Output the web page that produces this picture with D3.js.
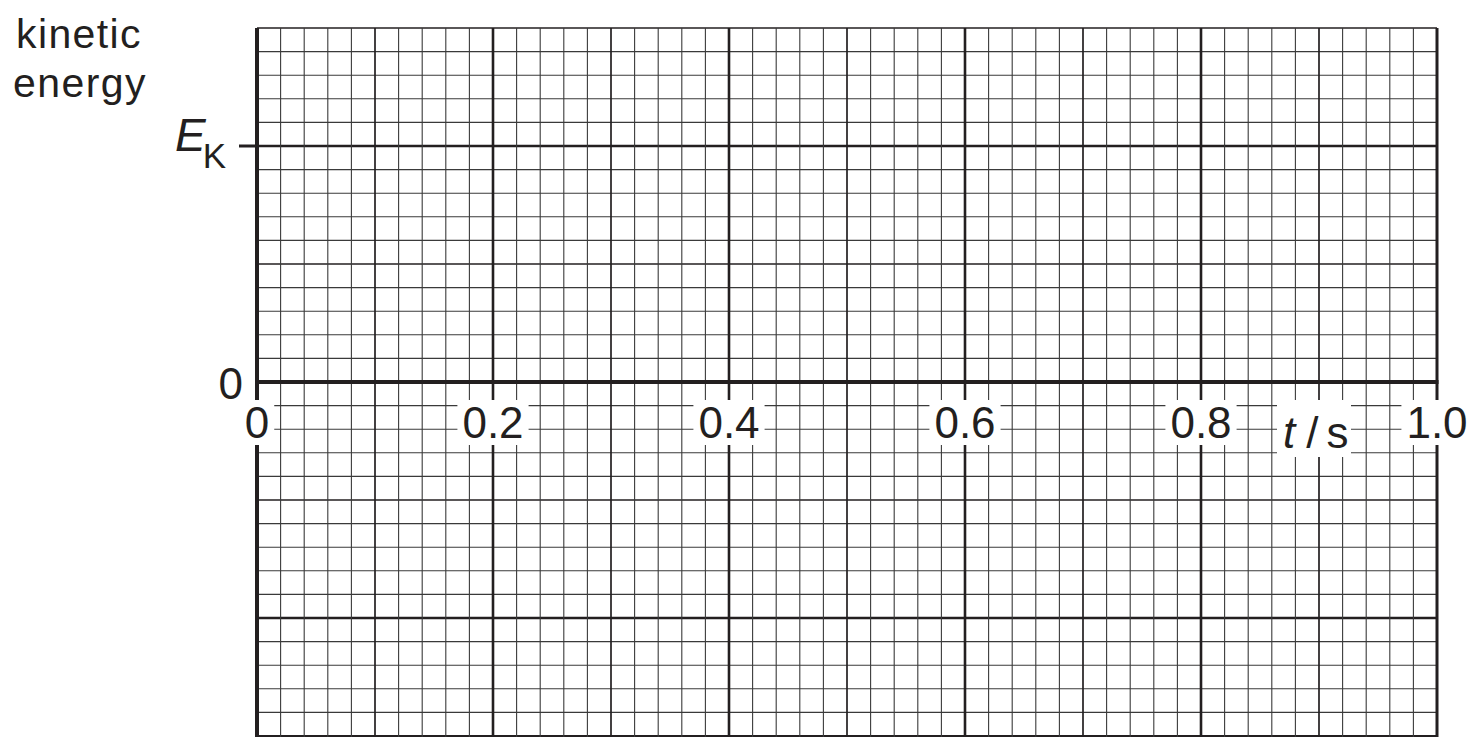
<!DOCTYPE html>
<html>
<head>
<meta charset="utf-8">
<script src="https://cdn.jsdelivr.net/npm/d3@7"></script>
<style>
  html, body { margin: 0; padding: 0; background: #fff; }
  svg { display: block; font-family: "Liberation Sans", Arial, sans-serif; }
</style>
</head>
<body>
<div id="chart"></div>
<script>
// axis ranges (t in s, kinetic energy in units of E_K)
const xDomain = [0, 1.0];
const yDomain = [-1.5, 1.5];

// labelled ticks
const xTickValues = [0, 0.2, 0.4, 0.6, 0.8, 1.0];
const xTickLabels = ["0", "0.2", "0.4", "0.6", "0.8", "1.0"];
const yTickValues = [0, 1];
const yTickLabels = ["0", "E_K"];

// grid spacing of the minor cells
const xMinorStep = 0.02;
const yMinorStep = 0.1;

const width = 1472, height = 748;
const ink = "#231f20";

const svg = d3.select("#chart").append("svg")
  .attr("width", width)
  .attr("height", height);

const x = d3.scaleLinear().domain(xDomain).range([257, 1437]);
const y = d3.scaleLinear().domain(yDomain).range([736, 28]);

// === grid ===
const nx = Math.round((xDomain[1] - xDomain[0]) / xMinorStep);
const ny = Math.round((yDomain[1] - yDomain[0]) / yMinorStep);
const y0 = Math.round(yDomain[0] / yMinorStep);

const vLines = d3.range(nx + 1).map(i => ({ v: xDomain[0] + i * xMinorStep, i }));
const hLines = d3.range(ny + 1).map(k => ({ v: (y0 + k) * yMinorStep, j: y0 + k }));

function vWidth(d) {
  if (d.i === 0) return 4;
  if (d.i === nx) return 3;
  if (d.i % 10 === 0) return 2.6;
  if (d.i % 5 === 0) return 1.7;
  return 1.1;
}
function hWidth(d) {
  if (d.j === 0) return 4;
  if (Math.abs(d.j) === 15) return d.j < 0 ? 2.2 : 1.6;
  if (d.j % 10 === 0) return 2.6;
  if (d.j % 5 === 0) return 1.7;
  return 1.1;
}

const grid = svg.append("g");

grid.selectAll("line.h")
  .data(hLines.filter(d => d.j !== 0))
  .join("line")
  .attr("class", "h")
  .attr("x1", x(xDomain[0])).attr("x2", x(xDomain[1]))
  .attr("y1", d => y(d.v)).attr("y2", d => y(d.v))
  .attr("stroke", d => hWidth(d) > 1.2 ? ink : "#3a3a3a")
  .attr("stroke-width", hWidth);

grid.selectAll("line.v")
  .data(vLines)
  .join("line")
  .attr("class", "v")
  .attr("x1", d => x(d.v)).attr("x2", d => x(d.v))
  .attr("y1", y(yDomain[1])).attr("y2", y(yDomain[0]) + 1)
  .attr("stroke", d => vWidth(d) > 1.2 ? ink : "#3a3a3a")
  .attr("stroke-width", vWidth);

// time axis on top
grid.append("line")
  .attr("x1", x(xDomain[0]) - 2).attr("x2", x(xDomain[1]) + 1.5)
  .attr("y1", y(0)).attr("y2", y(0))
  .attr("stroke", ink).attr("stroke-width", 4);

// E_K tick on the energy axis
grid.append("line")
  .attr("x1", 239).attr("x2", x(0))
  .attr("y1", y(1)).attr("y2", y(1))
  .attr("stroke", ink).attr("stroke-width", 3);

// === x tick labels with white boxes ===
const xl = svg.append("g");
xTickValues.forEach((v, i) => {
  const t = xl.append("text")
    .attr("x", x(v))
    .attr("y", 438)
    .attr("text-anchor", "middle")
    .attr("font-size", 44)
    .attr("fill", ink)
    .text(xTickLabels[i]);
  const bb = t.node().getBBox();
  xl.insert("rect", "text")
    .attr("x", bb.x - 5).attr("width", bb.width + 10)
    .attr("y", 400).attr("height", 45)
    .attr("fill", "#fff");
});

// t / s label
xl.append("rect")
  .attr("x", 1277).attr("width", 74)
  .attr("y", 400).attr("height", 57)
  .attr("fill", "#fff");
const ts = xl.append("text")
  .attr("x", 1283).attr("y", 448)
  .attr("font-size", 44)
  .attr("fill", ink);
ts.append("tspan").attr("font-style", "italic").text("t");
ts.append("tspan").attr("dx", 11).text("/");
ts.append("tspan").attr("dx", 8).text("s");

// === y tick labels ===
svg.append("text")
  .attr("x", 243).attr("y", y(yTickValues[0]) + 17)
  .attr("text-anchor", "end")
  .attr("font-size", 44)
  .attr("fill", ink)
  .text(yTickLabels[0]);

const ek = svg.append("text")
  .attr("x", 175).attr("y", y(yTickValues[1]) + 5)
  .attr("fill", ink);
ek.append("tspan").attr("font-style", "italic").attr("font-size", 46).text(yTickLabels[1].split("_")[0]);
ek.append("tspan").attr("font-size", 35).attr("dx", -3).attr("dy", 17).text(yTickLabels[1].split("_")[1]);

// axis title
const title = svg.append("text")
  .attr("text-anchor", "middle")
  .attr("font-size", 41)
  .attr("letter-spacing", 1.4)
  .attr("fill", ink);
title.append("tspan").attr("x", 79).attr("y", 48).text("kinetic");
title.append("tspan").attr("x", 80).attr("y", 97).text("energy");
</script>
</body>
</html>
